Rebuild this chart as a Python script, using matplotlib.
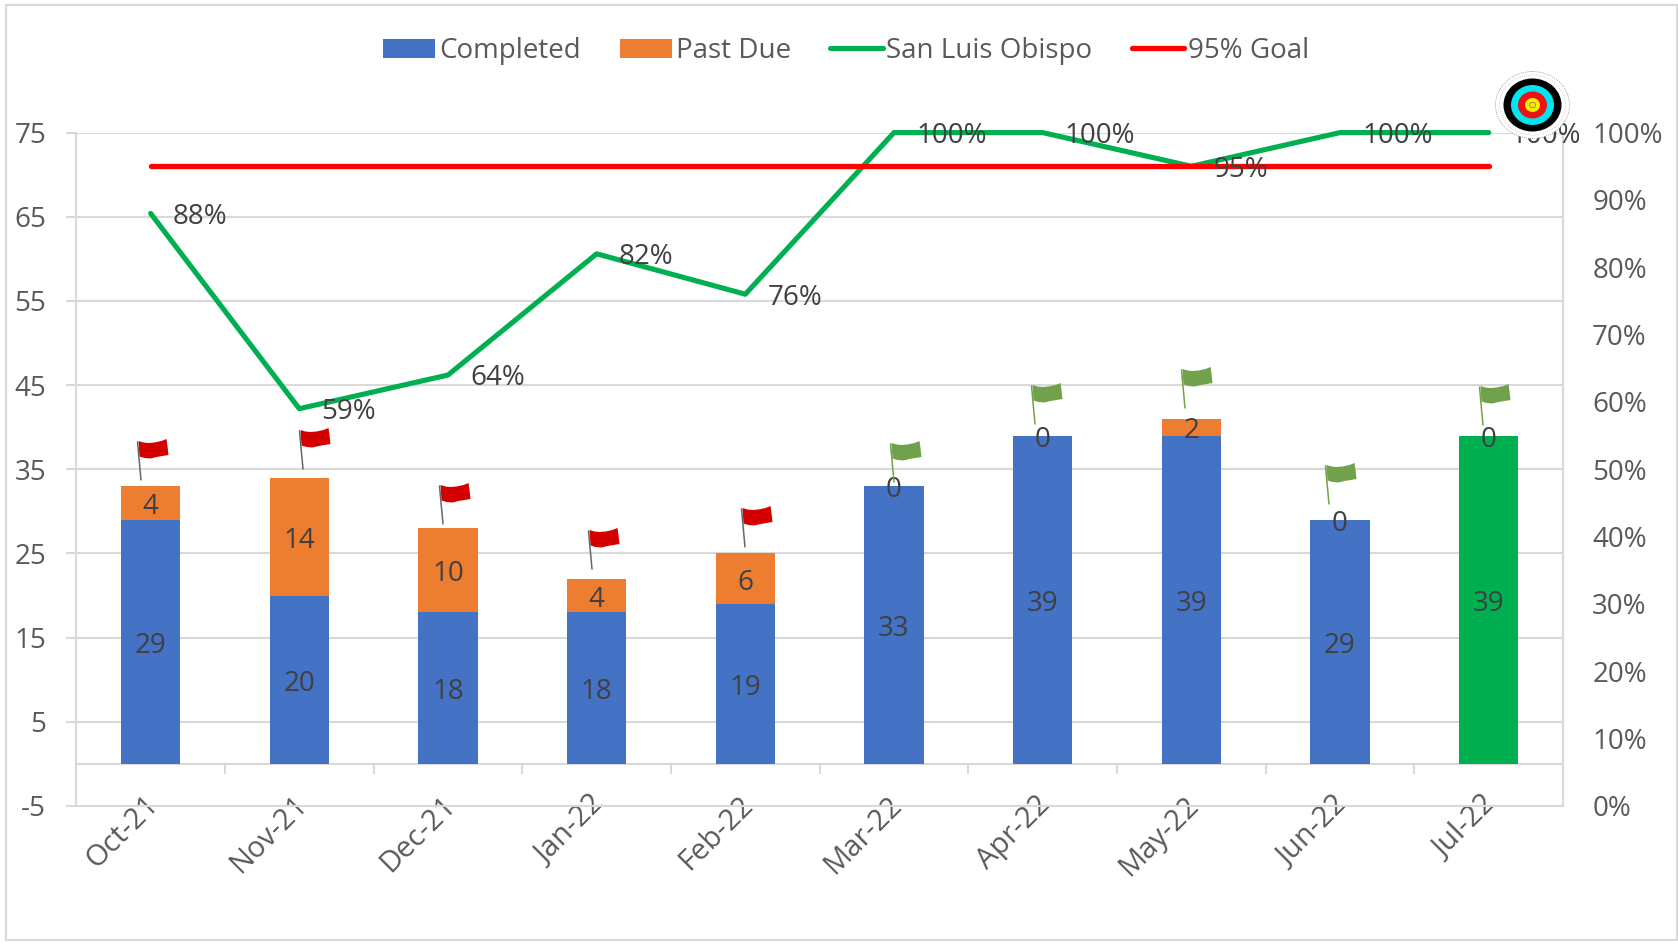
from matplotlib import pyplot as plt
from matplotlib.patches import Ellipse, Polygon, Rectangle
from matplotlib.transforms import ScaledTranslation

months = ["Oct-21", "Nov-21", "Dec-21", "Jan-22", "Feb-22", "Mar-22", "Apr-22", "May-22", "Jun-22", "Jul-22"]
completed = [29, 20, 18, 18, 19, 33, 39, 39, 29, 39]
past_due = [4, 14, 10, 4, 6, 0, 0, 2, 0, 0]
slo_pct = [88, 59, 64, 82, 76, 100, 100, 95, 100, 100]
goal_pct = [95] * 10
left_ticks = [-5, 5, 15, 25, 35, 45, 55, 65, 75]
right_ticks = [0, 10, 20, 30, 40, 50, 60, 70, 80, 90, 100]

# where the little flags were dropped by hand, in image pixels
flag_base = [(141, 480), (303, 469), (443, 524), (592, 569), (745, 547),
             (894, 482), (1035, 424), (1185, 408), (1329, 504), (1483, 425)]

W, H = 1678, 944
GRID = "#D9D9D9"
TICK = "#595959"
LABEL = "#404040"
BLUE = "#4472C4"
ORANGE = "#ED7D31"
GREEN = "#00B050"
FS = 20

plt.rcParams['font.family'] = ['Open Sans', 'DejaVu Sans']
plt.rcParams['axes.unicode_minus'] = False

fig = plt.figure(figsize=(W / 100, H / 100), dpi=100)
L, R, T, B = 76.3, 1563, 132.6, 806
ax = fig.add_axes([L / W, 1 - B / H, (R - L) / W, (B - T) / H])
x = list(range(len(months)))

ax.set_xlim(-0.5, 9.5)
ax.set_ylim(-5, 75)
ax.set_yticks(left_ticks)
ax.set_xticks(x)
ax.set_xticklabels(months, rotation=45, ha="right", va="top", rotation_mode="anchor")
ax.grid(axis="y", color=GRID, lw=1.5, zorder=0)
ax.set_axisbelow(True)
ax.tick_params(axis="y", length=7.2, width=1.5, color=GRID, labelcolor=TICK, labelsize=FS, pad=14.5)
ax.tick_params(axis="x", length=0, labelcolor=TICK, labelsize=21, pad=4)
for lab in ax.get_xticklabels():
    lab.set_transform(lab.get_transform() + ScaledTranslation(-0.07, 0.21, fig.dpi_scale_trans))
for s in ["top", "right"]:
    ax.spines[s].set_visible(False)
for s in ["left", "bottom"]:
    ax.spines[s].set_color(GRID)
    ax.spines[s].set_linewidth(1.5)

# category axis crosses at 0, the labels stay low
ax.axhline(0, color=GRID, lw=1.5, zorder=1)
ax.vlines([i + 0.5 for i in x[:-1]], -1.2, 0, color=GRID, lw=1.5, zorder=1)

bar_colors = [BLUE] * 9 + [GREEN]
ax.bar(x, completed, width=0.4, color=bar_colors, zorder=2, label="Completed")
ax.bar(x, past_due, width=0.4, bottom=completed, color=ORANGE, zorder=2, label="Past Due")

for i in x:
    ax.annotate(str(completed[i]), (i, completed[i] / 2), xytext=(0, -3), textcoords="offset points",
                ha="center", va="center", color=LABEL, fontsize=FS, zorder=5)
    ax.annotate(str(past_due[i]), (i, completed[i] + past_due[i] / 2), xytext=(0, -3),
                textcoords="offset points", ha="center", va="center", color=LABEL, fontsize=FS, zorder=5)

ax2 = ax.twinx()
ax2.set_ylim(0, 100)
ax2.set_yticks(right_ticks)
ax2.set_yticklabels([f"{v}%" for v in right_ticks])
ax2.tick_params(axis="y", length=0, labelcolor=TICK, labelsize=FS, pad=21)
for s in ["top", "left", "bottom"]:
    ax2.spines[s].set_visible(False)
ax2.spines["right"].set_color(GRID)
ax2.spines["right"].set_linewidth(1.5)

ax2.plot(x, slo_pct, color=GREEN, lw=3.7, solid_capstyle="round", solid_joinstyle="round",
         label="San Luis Obispo", zorder=3, clip_on=False)
ax2.plot(x, goal_pct, color="#FF0000", lw=3.8, solid_capstyle="round",
         label="95% Goal", zorder=3)
for i in x:
    ax2.annotate(f"{slo_pct[i]}%", (i, slo_pct[i]), xytext=(16, -2.5), textcoords="offset points",
                 ha="left", va="center", color=LABEL, fontsize=FS, zorder=5, annotation_clip=False)

h1, l1 = ax.get_legend_handles_labels()
h2, l2 = ax2.get_legend_handles_labels()
leg = fig.legend(h1 + h2, l1 + l2, ncol=4, loc="center", bbox_to_anchor=(0.5042, 1 - 51 / H),
                 frameon=False, fontsize=FS, labelcolor=TICK, handlelength=1.88, handleheight=0.67,
                 handletextpad=0.13, columnspacing=1.42)

# overlay in image pixels for frame, flags and the target picture
over = fig.add_axes([0, 0, 1, 1], facecolor="none")
over.set_xlim(0, W)
over.set_ylim(H, 0)
over.axis("off")
over.add_patch(Rectangle((6, 5), W - 7.5, H - 9, fill=False, ec=GRID, lw=1.5))


def flag(px, py, color, pole):
    over.plot([px, px - 3.5], [py, py - 38], color=pole, lw=1.1, solid_capstyle="round")
    top = py - 38
    dx = px - 2.5
    shape = [(0, -1), (5, 0.5), (10, 1), (16, 0.5), (23, -1), (28, -3), (29, 4), (30, 13),
             (24, 14), (18, 15), (12, 16.5), (6, 16), (1, 14.5)]
    over.add_patch(Polygon([(dx + a, top + b) for a, b in shape], closed=True, fc=color, ec="none"))


for i in x:
    good = slo_pct[i] >= goal_pct[i]
    flag(flag_base[i][0], flag_base[i][1], "#6FA24A" if good else "#D40000",
         "#6FA24A" if good else "#666666")

# the target is a bit wider than tall in the picture
cx, cy = 1532.5, 105
over.add_patch(Ellipse((cx, cy), 74, 67, fc="white", ec="#888888", lw=0.6, ls=(0, (1, 1.5))))
over.add_patch(Ellipse((cx, cy), 66, 60, fc="none", ec="#AAAAAA", lw=0.5, ls=(0, (1, 2))))
for wid, hei, col in [(58, 53, "black"), (43, 40, "#00E5F0"), (29, 27, "#EE1111"), (15, 14, "#FFEE00")]:
    over.add_patch(Ellipse((cx, cy), wid, hei, fc=col, ec="none"))
over.add_patch(Ellipse((cx, cy), 6, 5.5, fc="none", ec="#666666", lw=0.5))

fig.savefig("out.png", dpi=100)
